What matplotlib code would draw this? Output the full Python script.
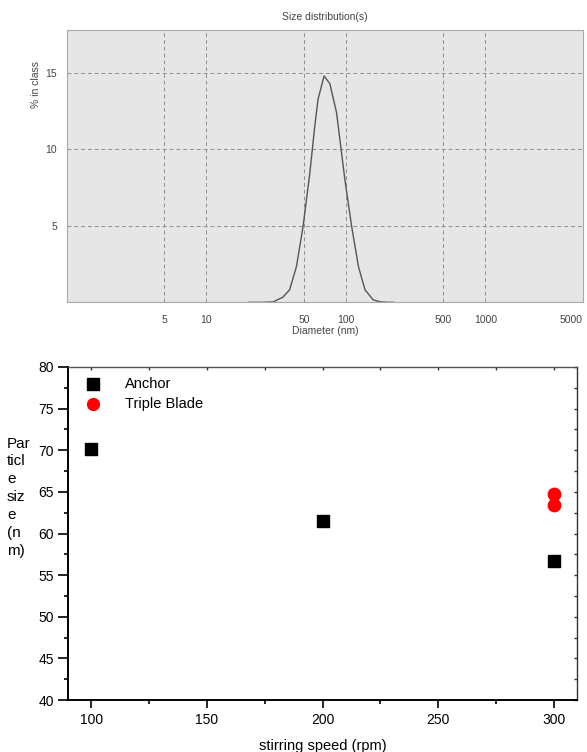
import matplotlib
matplotlib.use("Agg")
import matplotlib.pyplot as plt
from matplotlib.ticker import MultipleLocator, FixedLocator, NullFormatter

plt.rcParams['font.family'] = ['Liberation Sans', 'DejaVu Sans']

# ---- Top panel: size distribution ----
diameter_nm = [20, 25, 30, 35.4, 39.5, 44.2, 49.3, 55.1, 59.8, 63.2, 69.8, 76.7,
               85.7, 98.4, 110, 123, 137, 157, 176, 200, 220]
percent_in_class = [0.0, 0.0, 0.02, 0.34, 0.82, 2.34, 4.95, 8.44, 11.5, 13.3, 14.8, 14.3,
                    12.4, 8.0, 4.95, 2.34, 0.82, 0.16, 0.03, 0.0, 0.0]
top_xticks = [5, 10, 50, 100, 500, 1000, 5000]
top_yticks = [5, 10, 15]

# ---- Bottom panel: particle size vs stirring speed ----
anchor_speed = [100, 200, 300]
anchor_size = [70.1, 61.5, 56.7]
triple_speed = [300, 300]
triple_size = [64.8, 63.4]

fig = plt.figure(figsize=(5.87, 7.52), dpi=100)

txtc = '#444444'
ax1 = fig.add_axes([0.114, 0.598, 0.879, 0.362])
ax1.set_facecolor('#e6e6e6')
ax1.plot(diameter_nm, percent_in_class, color='#555555', lw=1.0)
ax1.set_xscale('log')
ax1.set_xlim(1, 5000)
ax1.set_ylim(0, 17.8)
ax1.xaxis.set_minor_locator(FixedLocator([]))
ax1.xaxis.set_minor_formatter(NullFormatter())
ax1.set_xticks(top_xticks)
ax1.set_xticklabels([str(t) for t in top_xticks])
ax1.set_yticks(top_yticks)
ax1.set_yticklabels([str(t) for t in top_yticks])
ax1.tick_params(axis='x', length=0, labelsize=7.5, labelcolor=txtc, pad=9)
ax1.tick_params(axis='y', length=0, labelsize=7.5, labelcolor=txtc, pad=7)
labs = ax1.get_xticklabels()
labs[-1].set_horizontalalignment('right')
ax1.grid(True, which='major', ls=(0, (4, 3)), color='#8f8f8f', lw=0.7)
for s in ax1.spines.values():
    s.set_color('#aaaaaa')
    s.set_linewidth(0.8)
ax1.set_title('Size distribution(s)', fontsize=7.5, color=txtc, pad=7)
ax1.set_xlabel('Diameter (nm)', fontsize=7.5, color=txtc, labelpad=1)
ax1.set_ylabel('% in class', fontsize=7.5, color=txtc)
ax1.yaxis.set_label_coords(-0.05, 0.80)

# Bottom axes
ax2 = fig.add_axes([0.116, 0.069, 0.867, 0.443])
ax2.scatter(anchor_speed, anchor_size, marker='s', s=70, color='black', label='Anchor', zorder=3)
ax2.scatter(triple_speed, triple_size, marker='o', s=80, color='red', label='Triple Blade', zorder=3)
ax2.set_xlim(90, 310)
ax2.set_ylim(40, 80)
ax2.xaxis.set_major_locator(MultipleLocator(50))
ax2.xaxis.set_minor_locator(MultipleLocator(25))
ax2.yaxis.set_major_locator(MultipleLocator(5))
ax2.yaxis.set_minor_locator(MultipleLocator(2.5))
ax2.tick_params(axis='both', which='major', direction='out', length=6, width=1.2,
                labelsize=10, pad=3)
ax2.tick_params(axis='both', which='minor', direction='out', length=3, width=1.2)
ax2.tick_params(axis='y', which='major', length=7)
# top and right small inward ticks
ax2t = ax2.secondary_xaxis('top')
ax2t.xaxis.set_major_locator(MultipleLocator(25))
ax2t.tick_params(direction='in', length=2, width=1.0, labeltop=False, colors='#333333')
ax2r = ax2.secondary_yaxis('right')
ax2r.yaxis.set_major_locator(MultipleLocator(2.5))
ax2r.tick_params(direction='in', length=2, width=1.0, labelright=False, colors='#333333')
ax2t.spines['top'].set_visible(False)
ax2r.spines['right'].set_visible(False)
ax2.spines['left'].set_linewidth(1.4)
ax2.spines['bottom'].set_linewidth(1.4)
ax2.spines['top'].set_linewidth(1.0)
ax2.spines['top'].set_color('#555555')
ax2.spines['right'].set_linewidth(1.0)
ax2.spines['right'].set_color('#333333')
ax2.set_xlabel('stirring speed (rpm)', fontsize=10.5, labelpad=9)
fig.text(0.012, 0.339, 'Par\nticl\ne\nsiz\ne\n(n\nm)', fontsize=11, ha='left', va='center',
         linespacing=1.35)
ax2.legend(loc='upper left', frameon=False, fontsize=10.5, handletextpad=1.2,
           borderaxespad=0.3, labelspacing=0.4, markerscale=0.95,
           bbox_to_anchor=(0.0, 1.0))

fig.savefig('out.png', dpi=100)
